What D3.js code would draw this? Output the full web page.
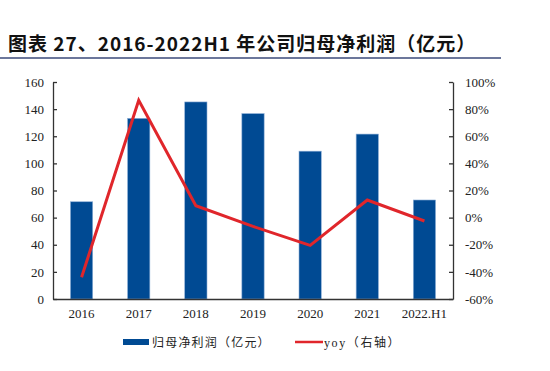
<!DOCTYPE html>
<html>
<head>
<meta charset="utf-8">
<script src="https://cdn.jsdelivr.net/npm/d3@7"></script>
<style>
  body { margin: 0; background: #fff; }
  text { font-family: "Liberation Serif", "Noto Sans CJK SC", serif; }
</style>
</head>
<body>
<div class="chart"></div>
<script>
var categories = ["2016", "2017", "2018", "2019", "2020", "2021", "2022.H1"];
var profit = [71.7, 133.2, 145.3, 136.7, 109, 121.6, 73];
var yoy = [-44, 86.5, 8.8, -6.5, -20.5, 13, -2.5];
var leftTicks = [0, 20, 40, 60, 80, 100, 120, 140, 160];
var rightTicks = [-60, -40, -20, 0, 20, 40, 60, 80, 100];

var svgWidth = 550;
var svgHeight = 371;
var margin = { top: 82, right: 97, bottom: 72, left: 53 };
var width = svgWidth - margin.left - margin.right;
var height = svgHeight - margin.top - margin.bottom;

var svg = d3.select(".chart")
  .append("svg")
  .attr("width", svgWidth)
  .attr("height", svgHeight);

// title + rule
svg.append("text")
  .attr("x", 8)
  .attr("y", 51)
  .attr("font-size", "19px")
  .attr("font-weight", "bold")
  .attr("letter-spacing", "1px")
  .attr("fill", "#111")
  .style("font-family", "'Noto Sans CJK SC', sans-serif")
  .text("图表 27、2016-2022H1 年公司归母净利润（亿元）");

svg.append("line")
  .attr("x1", 0).attr("x2", 501)
  .attr("y1", 58).attr("y2", 58)
  .attr("stroke", "#3b4a7a")
  .attr("stroke-width", 1.5);

var chartGroup = svg.append("g")
  .attr("transform", `translate(${margin.left}, ${margin.top})`);

var xScale = d3.scaleBand()
  .domain(categories)
  .range([0, width])
  .paddingInner(0.61)
  .paddingOuter(0.305);

var yLeft = d3.scaleLinear().domain([0, 160]).range([height, 0]);
var yRight = d3.scaleLinear().domain([-60, 100]).range([height, 0]);

// bars
chartGroup.selectAll("rect.bar")
  .data(profit)
  .enter()
  .append("rect")
  .attr("class", "bar")
  .attr("x", (d, i) => xScale(categories[i]))
  .attr("y", d => yLeft(d))
  .attr("width", xScale.bandwidth())
  .attr("height", d => height - yLeft(d))
  .attr("fill", "#004a93")
  .attr("stroke", "#8fb0d8")
  .attr("stroke-width", 0.6);

// axes
var leftAxis = d3.axisLeft(yLeft).tickValues(leftTicks).tickSizeInner(-4).tickSizeOuter(0).tickPadding(9);
var rightAxis = d3.axisRight(yRight).tickValues(rightTicks).tickSizeInner(-4).tickSizeOuter(0).tickPadding(12)
  .tickFormat(d => d + "%");
var bottomAxis = d3.axisBottom(xScale).tickSize(0).tickPadding(10);

function styleAxis(g) {
  g.select(".domain").attr("stroke", "#333").attr("stroke-width", 1.3);
  g.selectAll(".tick line").attr("stroke", "#333").attr("stroke-width", 1.3);
  g.selectAll("text").attr("font-size", "13px").attr("fill", "#222")
    .style("font-family", "'Liberation Serif', serif");
}

chartGroup.append("g").call(leftAxis).call(styleAxis);
chartGroup.append("g")
  .attr("transform", `translate(${width}, 0)`)
  .call(rightAxis).call(styleAxis);
chartGroup.append("g")
  .attr("transform", `translate(0, ${height})`)
  .call(bottomAxis).call(styleAxis);

// yoy line
var line = d3.line()
  .x((d, i) => xScale(categories[i]) + xScale.bandwidth() / 2)
  .y(d => yRight(d));

chartGroup.append("path")
  .datum(yoy)
  .attr("d", line)
  .attr("fill", "none")
  .attr("stroke", "#e0262b")
  .attr("stroke-width", 3);

// legend
var legend = svg.append("g").attr("transform", "translate(0, 342)");
legend.append("rect")
  .attr("x", 123).attr("y", -3)
  .attr("width", 26).attr("height", 6)
  .attr("fill", "#004a93");
legend.append("text")
  .attr("x", 152).attr("y", 5)
  .attr("font-size", "12px")
  .attr("letter-spacing", "1.2px")
  .attr("fill", "#222")
  .style("font-family", "'Noto Sans CJK SC', sans-serif")
  .text("归母净利润（亿元）");
legend.append("line")
  .attr("x1", 295).attr("x2", 323)
  .attr("y1", 0).attr("y2", 0)
  .attr("stroke", "#e0262b")
  .attr("stroke-width", 2.5);
legend.append("text")
  .attr("x", 324).attr("y", 5)
  .attr("font-size", "12px")
  .attr("letter-spacing", "1.6px")
  .attr("fill", "#222")
  .style("font-family", "'Liberation Serif', 'Noto Sans CJK SC', serif")
  .text("yoy（右轴）");
</script>
</body>
</html>
